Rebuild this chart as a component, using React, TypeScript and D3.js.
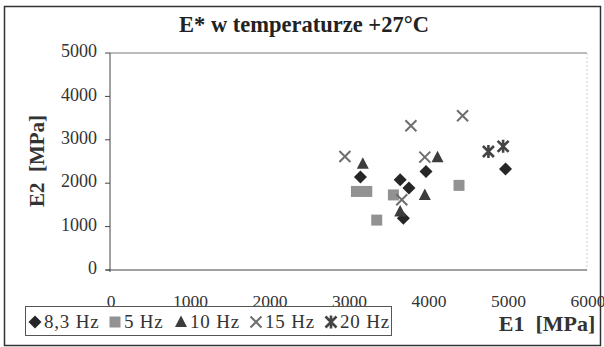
import * as d3 from 'd3';

type Pt = { e1: number; e2: number };

const e1Ticks = [0, 1000, 2000, 3000, 4000, 5000, 6000];
const e2Ticks = [0, 1000, 2000, 3000, 4000, 5000];

const hz83: Pt[] = [
  { e1: 3150, e2: 2140 },
  { e1: 3975, e2: 2270 },
  { e1: 3650, e2: 2080 },
  { e1: 3760, e2: 1890 },
  { e1: 3690, e2: 1190 },
  { e1: 4975, e2: 2330 },
];
const hz5: Pt[] = [
  { e1: 3100, e2: 1810 },
  { e1: 3230, e2: 1810 },
  { e1: 3565, e2: 1730 },
  { e1: 3355, e2: 1150 },
  { e1: 4390, e2: 1950 },
];
const hz10: Pt[] = [
  { e1: 3180, e2: 2450 },
  { e1: 4120, e2: 2600 },
  { e1: 3960, e2: 1730 },
  { e1: 3650, e2: 1350 },
];
const hz15: Pt[] = [
  { e1: 2955, e2: 2615 },
  { e1: 3785, e2: 3325 },
  { e1: 4435, e2: 3555 },
  { e1: 3960, e2: 2600 },
  { e1: 3670, e2: 1620 },
];
const hz20: Pt[] = [
  { e1: 4760, e2: 2730 },
  { e1: 4945, e2: 2850 },
];

const W = 604;
const H = 347;

const x = d3.scaleLinear().domain([0, 6000]).range([110, 587]);
const y = d3.scaleLinear().domain([0, 5000]).range([270, 53]);

const serif = "'Liberation Serif', 'Times New Roman', serif";

function Marker({ kind, cx, cy }: { kind: string; cx: number; cy: number }) {
  if (kind === 'diamond') {
    const s = 6.5;
    return <path d={`M${cx},${cy - s}L${cx + s},${cy}L${cx},${cy + s}L${cx - s},${cy}Z`} fill='#262626' />;
  }
  if (kind === 'square') {
    return <rect x={cx - 5.5} y={cy - 5.5} width={11} height={11} fill='#929292' />;
  }
  if (kind === 'triangle') {
    return <path d={`M${cx},${cy - 6.5}L${cx + 6},${cy + 5}L${cx - 6},${cy + 5}Z`} fill='#3c3c3c' />;
  }
  if (kind === 'cross') {
    const s = 5.5;
    return (
      <path
        d={`M${cx - s},${cy - s}L${cx + s},${cy + s}M${cx - s},${cy + s}L${cx + s},${cy - s}`}
        stroke='#6e6e6e'
        strokeWidth={2}
        fill='none'
      />
    );
  }
  const s = 5.5;
  return (
    <path
      d={`M${cx - s},${cy - s}L${cx + s},${cy + s}M${cx - s},${cy + s}L${cx + s},${cy - s}M${cx},${cy - s - 1}L${cx},${cy + s + 1}`}
      stroke='#444'
      strokeWidth={2.6}
      fill='none'
    />
  );
}

const series = [
  { name: '8,3 Hz', kind: 'diamond', data: hz83 },
  { name: '5 Hz', kind: 'square', data: hz5 },
  { name: '10 Hz', kind: 'triangle', data: hz10 },
  { name: '15 Hz', kind: 'cross', data: hz15 },
  { name: '20 Hz', kind: 'star', data: hz20 },
];

const legendX = [35, 115, 181, 256, 331];

export default function App() {
  return (
    <svg width={W} height={H} style={{ position: 'absolute', left: 0, top: 0, background: '#fff' }}>
      <rect x={4.5} y={6.5} width={596} height={339} fill='#fff' stroke='#333' strokeWidth={1.5} />
      <text x={304} y={32} textAnchor='middle' fontFamily={serif} fontWeight='bold' fontSize={22.5} fill='#222'>
        E* w temperaturze +27°C
      </text>

      {/* plot frame */}
      <line x1={x(0)} x2={x(6000)} y1={y(5000)} y2={y(5000)} stroke='#777' strokeWidth={1} />
      <line x1={x(6000)} x2={x(6000)} y1={y(5000)} y2={y(0)} stroke='#ccc' strokeWidth={1} strokeDasharray='2,2' />
      <line x1={x(0)} x2={x(0)} y1={y(5000)} y2={y(0) + 2} stroke='#444' strokeWidth={1} />
      <line x1={x(0) - 4} x2={x(6000)} y1={y(0)} y2={y(0)} stroke='#444' strokeWidth={1} />

      {e2Ticks.map((t) => (
        <g key={`yt${t}`}>
          <line x1={x(0) - 5} x2={x(0)} y1={y(t)} y2={y(t)} stroke='#444' />
          <text
            x={97}
            y={y(t)}
            textAnchor='end'
            dominantBaseline='middle'
            fontFamily={serif}
            fontSize={18}
            fill='#333'
          >
            {t}
          </text>
        </g>
      ))}
      {e1Ticks.map((t) => (
        <text key={`xt${t}`} x={x(t) + 1} y={307} textAnchor='middle' fontFamily={serif} fontSize={17.5} fill='#333'>
          {t}
        </text>
      ))}

      <text
        transform='translate(44,161) rotate(-90)'
        textAnchor='middle'
        fontFamily={serif}
        fontWeight='bold'
        fontSize={21}
        fill='#333'
        style={{ whiteSpace: 'pre' }}
      >
        {'E2  [MPa]'}
      </text>
      <text
        x={547}
        y={331}
        textAnchor='middle'
        fontFamily={serif}
        fontWeight='bold'
        fontSize={22}
        fill='#333'
        style={{ whiteSpace: 'pre' }}
      >
        {'E1  [MPa]'}
      </text>

      {series.map((s) => (
        <g key={s.name}>
          {s.data.map((d, i) => (
            <Marker key={i} kind={s.kind} cx={x(d.e1)} cy={y(d.e2)} />
          ))}
        </g>
      ))}

      {/* legend */}
      <rect x={25.5} y={306.5} width={366} height={29} fill='#fff' stroke='#555' strokeWidth={1} />
      {series.map((s, i) => (
        <g key={`lg${s.name}`}>
          <Marker kind={s.kind} cx={legendX[i]} cy={322} />
          <text x={legendX[i] + 9} y={328} fontFamily={serif} fontSize={19} letterSpacing={0.8} fill='#333'>
            {s.name}
          </text>
        </g>
      ))}
    </svg>
  );
}
